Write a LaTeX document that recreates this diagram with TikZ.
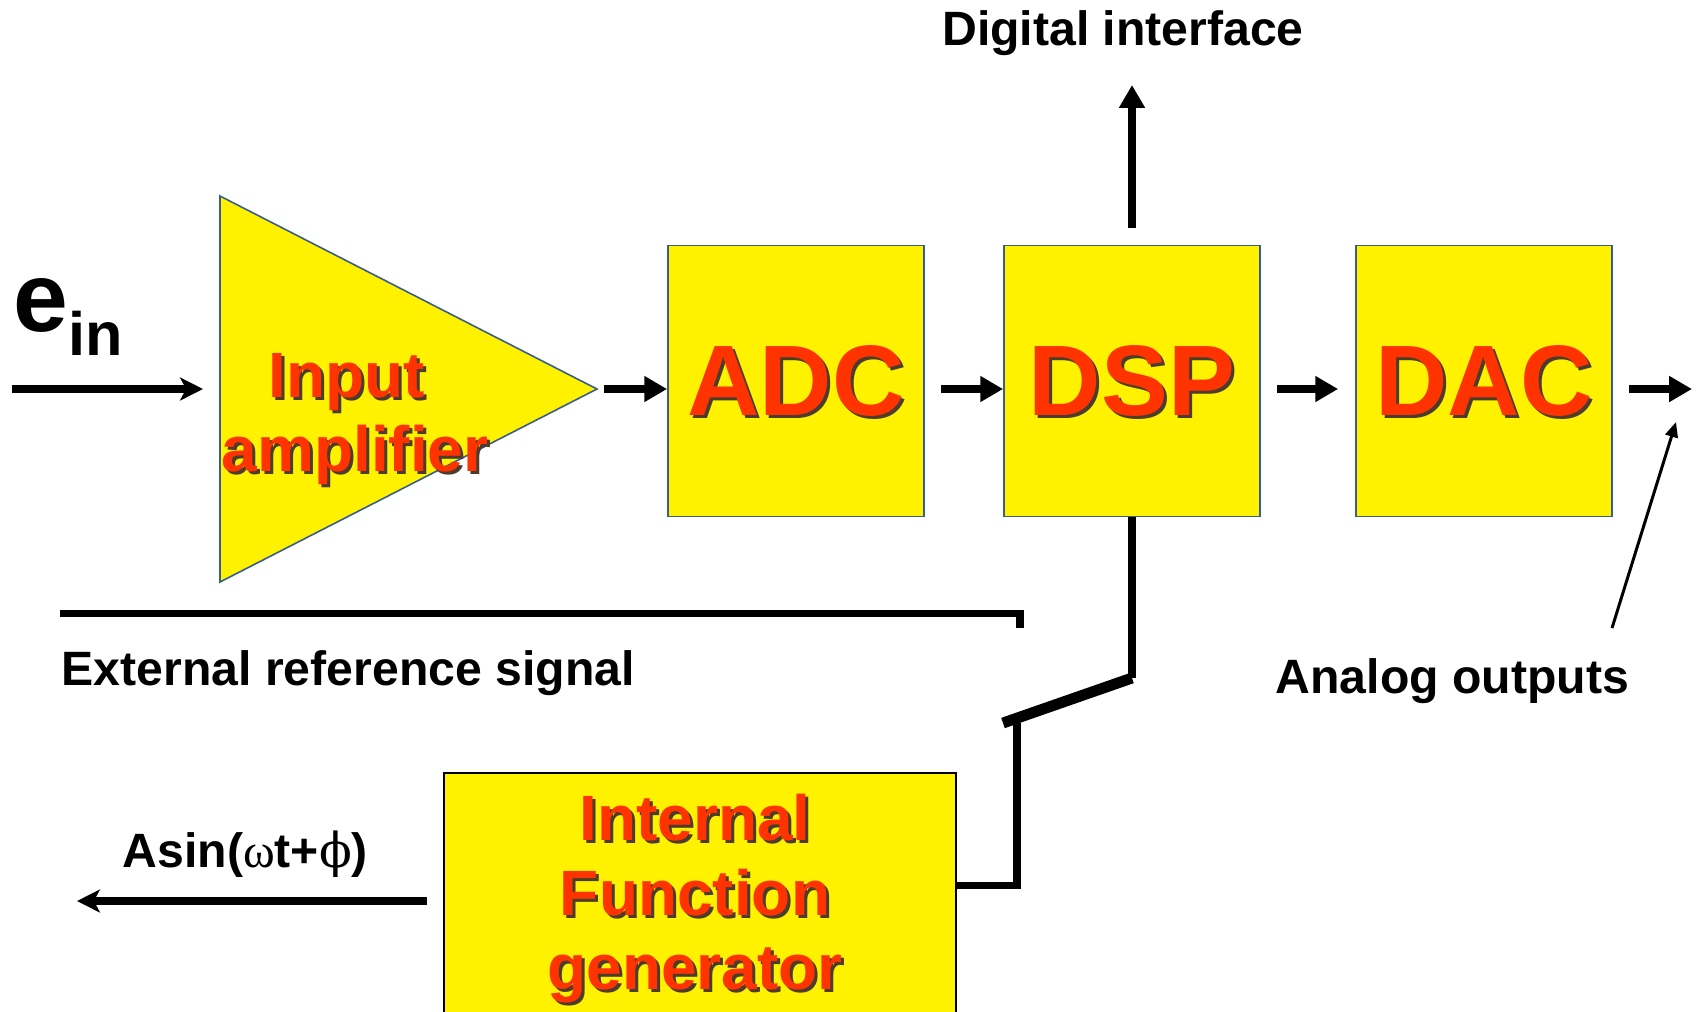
\documentclass[tikz,border=0pt]{standalone}
\usepackage{fontspec}
\setmainfont{Liberation Sans}
\newfontfamily\greekfont{DejaVu Serif}
\newfontfamily\omegafont{Liberation Serif}
\usetikzlibrary{calc}
\usetikzlibrary{arrows.meta}
\definecolor{edgeblue}{RGB}{56,93,138}
\definecolor{blockred}{RGB}{255,51,0}
\definecolor{shadowgray}{RGB}{75,60,45}
\newcommand{\shd}[1]{\rlap{\smash{\kern0.03cm\raisebox{-0.03cm}{\color{shadowgray}#1}}}#1}
\tikzset{
  blk/.style={rectangle, draw=edgeblue, line width=0.45pt, fill=yellow, inner sep=0pt,
    minimum width=2.56cm, minimum height=2.71cm, text=blockred,
    font=\fontsize{28.5pt}{28.5pt}\selectfont\bfseries},
  lbl/.style={inner sep=0pt, align=center, text=blockred, font=\fontsize{18.2pt}{21.2pt}\selectfont\bfseries},
  txt/.style={inner sep=0pt, font=\fontsize{13.7pt}{16pt}\selectfont\bfseries},
  wire/.style={line width=2pt},
  arr/.style={line width=2.28pt, -{Triangle[length=6.5pt,width=7pt]}},
  barb/.style={line width=2.28pt, -{Stealth[length=6.5pt,width=6.5pt,inset=1.7pt]}},
}
\begin{document}
\begin{tikzpicture}[x=0.01cm,y=-0.01cm]
\clip (0,0) rectangle (1700,1011);
\coordinate (amp-t) at (220,196);
\coordinate (amp-b) at (220,582);
\coordinate (amp-tip) at (597,389);
\filldraw[fill=yellow, draw=edgeblue, line width=0.45pt] (amp-t) -- (amp-tip) -- (amp-b) -- cycle;
\node[lbl] (amp) at (355,419) {\shd{Input}\kern0.16cm\\\shd{amplifier}};

\node[blk] (adc) at (796,381) {\shd{ADC}};
\node[blk] (dsp) at (1132,381) {\shd{DSP}};
\node[blk] (dac) at (1484,381) {\shd{DAC}};
\node[blk, draw=black, line width=0.55pt, anchor=north, minimum width=5.11cm, minimum height=2.9cm] (ifg) at (700,772) {};
\node[lbl] (ifg-t) at (695,899) {\shd{Internal}\\\shd{Function}\\\shd{generator}};

\node[anchor=base west, inner sep=0pt, font=\bfseries] (ein) at (13,331)
  {\fontsize{28pt}{28pt}\selectfont e\raisebox{-0.24cm}{\fontsize{17.4pt}{17.4pt}\selectfont in}};
\node[txt, anchor=base] (digital) at (1123,45) {Digital interface};
\node[txt, anchor=base west] (extref) at (61,685) {External reference signal};
\node[txt, anchor=base west] (analog) at (1275,693) {Analog outputs};
\node[txt, anchor=base west] (sine) at (122,867) {Asin({\omegafont\mdseries ω}t+{\greekfont\mdseries ϕ})};

\coordinate (ein-in) at (12,389);
\coordinate (out) at (1692,389);
\coordinate (dig-tip) at (1132,85);
\coordinate (pivot) at (1132,678);
\coordinate (blade) at (1003,723);
\coordinate (sw) at (1017,723);
\coordinate (ifg-in) at ($(ifg.north east)+(0,113)$);
\coordinate (ext-l) at (60,613);
\coordinate (ext-r) at (1020,613);
\coordinate (sine-l) at (77,901);
\coordinate (ptr) at (1612,628);
\coordinate (ptr-tip) at (1676,422);

\draw[barb] (ein-in) -- ($(amp-t)!0.5!(amp-b)+(-17,0)$);
\draw[arr] ($(amp-tip)+(7,0)$) -- (amp-tip -| adc.west);
\draw[arr] ($(adc.east |- amp-tip)+(16,0)$) -- (amp-tip -| dsp.west);
\draw[arr] ($(dsp.east |- amp-tip)+(16,0)$) -- ($(amp-tip -| dac.west)+(-17,0)$);
\draw[arr] ($(dac.east |- amp-tip)+(16,0)$) -- (out);
\draw[arr] ($(dsp.north)+(0,-17)$) -- (dig-tip);
\draw[wire] (dsp.south) -- (pivot);
\draw[line width=3.1pt] (pivot) -- (blade);
\draw[wire] (sw) |- (ifg-in);
\draw[wire] (ext-l) -- (ext-r) -- ++(0,15);
\draw[barb] ($(ifg.north west)+(-16,129)$) -- (sine-l);
\draw[line width=0.85pt, -{Triangle[length=4.3pt,width=3.6pt]}] (ptr) -- (ptr-tip);
\end{tikzpicture}
\end{document}
